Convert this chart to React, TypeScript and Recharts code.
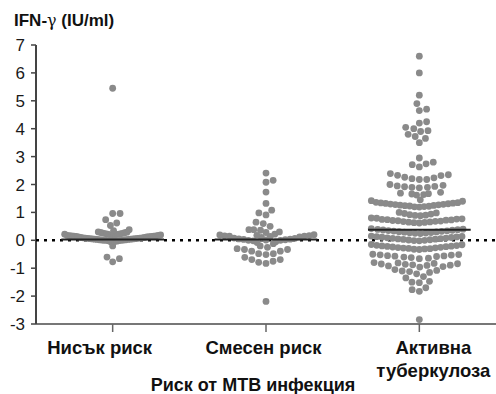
import { ScatterChart, Scatter, XAxis, YAxis } from "recharts";

const GROUPS = ["Нисък риск", "Смесен риск", "Активна туберкулоза"];
const Y_TICKS = [-3, -2, -1, 0, 1, 2, 3, 4, 5, 6, 7];

// IFN-γ values (IU/ml)
const LOW_RISK = [
  5.45, 0.96, 0.96, 0.74, 0.62, 0.53, 0.38, 0.35, 0.29, -0.2, -0.6, -0.66, -0.77,
  0.3, 0.28, 0.27, 0.26, 0.25, 0.24, 0.23, 0.22, 0.22, 0.21, 0.2, 0.2, 0.19, 0.18,
  0.18, 0.17, 0.16, 0.16, 0.15, 0.15, 0.14, 0.14, 0.13, 0.12, 0.12, 0.11, 0.1, 0.1,
  0.09, 0.09, 0.08, 0.08, 0.07, 0.07, 0.06, 0.06, 0.05, 0.05, 0.04, 0.04, 0.03, 0.03,
  0.02, 0.02, 0.01, 0.01, 0.0, 0.0, 0.0, -0.01, -0.02, -0.03, -0.04, -0.05,
];
const MIXED_RISK = [
  2.41, 2.15, 2.08, 1.73, 1.32, 1.08, 0.98, 0.91, 0.65, 0.6, 0.5, 0.38, 0.38, 0.36,
  0.3, 0.28, 0.22, 0.2, 0.19, 0.18, 0.17, 0.16, 0.15, 0.15, 0.14, 0.12, 0.1, 0.08,
  0.07, 0.05, 0.04, 0.03, 0.02, 0.01, 0.0, 0.0, -0.02, -0.05, -0.08, -0.12, -0.2,
  -0.25, -0.3, -0.33, -0.33, -0.39, -0.39, -0.48, -0.48, -0.51,
  -0.61, -0.69, -0.69, -0.75, -0.79, -0.83, -2.19,
];
const ACTIVE_TB = [
  6.6, 6.0, 5.2, 4.9, 4.7, 4.65, 4.25, 4.2, 4.05, 4.0, 3.93, 3.9, 3.8, 3.72, 3.65, 3.5,
  2.95, 2.8, 2.74, 2.71, 2.63,
  2.39, 2.35, 2.33, 2.32, 2.26, 2.24, 2.21, 2.18, 2.18,
  2.0, 1.97, 1.95, 1.93, 1.92, 1.9, 1.9, 1.88,
  1.72, 1.69, 1.67, 1.66, 1.64, 1.62,
  1.45, 1.42, 1.4,
  1.36, 1.35, 1.34, 1.33, 1.32, 1.31, 1.3, 1.29, 1.28, 1.27, 1.26, 1.25, 1.24, 1.23,
  1.22, 1.21, 1.2, 1.19,
  1.0, 0.98, 0.96, 0.94, 0.92, 0.9, 0.89, 0.88,
  0.8, 0.79, 0.77, 0.76, 0.75, 0.74, 0.73, 0.72, 0.71, 0.7, 0.69, 0.68, 0.67, 0.66,
  0.65, 0.64, 0.63, 0.62,
  0.42, 0.4, 0.39, 0.38, 0.37, 0.36, 0.35, 0.34, 0.33, 0.32, 0.31, 0.3, 0.29, 0.28,
  0.27, 0.26, 0.25, 0.24,
  0.15, 0.14, 0.13, 0.12, 0.11, 0.1, 0.09, 0.08, 0.07, 0.06, 0.05, 0.04, 0.03, 0.02,
  0.01, 0.0, -0.01, -0.02,
  -0.15, -0.16, -0.18, -0.19, -0.2, -0.21, -0.22, -0.23, -0.24, -0.25, -0.26, -0.27,
  -0.28, -0.29, -0.3, -0.31, -0.32, -0.33,
  -0.5, -0.51, -0.52, -0.53, -0.55, -0.56, -0.57, -0.58, -0.6, -0.62, -0.64, -0.66,
  -0.8, -0.81, -0.83, -0.84, -0.85, -0.86, -0.88, -0.89, -0.9, -0.92, -0.94, -0.96,
  -1.05, -1.08, -1.1, -1.12, -1.15, -1.2,
  -1.3, -1.35, -1.47, -1.5, -1.52,
  -1.7, -1.77, -1.83,
  -2.84,
];
const MEDIANS = [0.03, 0.03, 0.38];

const W = 496;
const H = 394;
const TOP = 45;
const AXIS_W = 36;
const XAXIS_H = 70;
const PX_X = (W - AXIS_W) / 3; // px per x unit
const PX_Y = (H - TOP - XAXIS_H) / 10; // px per y unit
const D = 7.4; // dot spacing in px
const CAP = 48; // half width of a swarm in px
const HALF = 0.335; // median line half width, x units
const LABEL_SHIFT = [-13, -2.5, 14];

// beeswarm: ascending, each point as close to the centre as it can go
function swarm(values: number[], gi: number) {
  const sorted = [...values].sort((a, b) => a - b);
  const placed: { x: number; y: number }[] = [];
  let flip = false;
  for (const v of sorted) {
    const y = v * PX_Y;
    const near = placed.filter((p) => Math.abs(p.y - y) < D);
    const cands = [0];
    for (const p of near) {
      const dx = Math.sqrt(D * D - (p.y - y) ** 2);
      cands.push(p.x + dx, p.x - dx);
    }
    cands.sort((a, b) => Math.abs(a) - Math.abs(b) || (flip ? b - a : a - b));
    const x = cands.find((c) => near.every((p) => (p.x - c) ** 2 + (p.y - y) ** 2 >= D * D - 1e-6)) ?? 0;
    flip = !flip;
    placed.push({ x, y });
  }
  return placed.map((p) => {
    const local = Math.max(...placed.filter((q) => Math.abs(q.y - p.y) < D).map((q) => Math.abs(q.x)));
    const s = local > CAP ? CAP / local : 1;
    return { x: gi + 0.5 + (p.x * s) / PX_X, y: p.y / PX_Y };
  });
}

const SERIES = [LOW_RISK, MIXED_RISK, ACTIVE_TB].map((vals, i) => swarm(vals, i));

const Dot = (p: any) => <circle cx={p.cx} cy={p.cy} r={3.4} fill="#8a8a8a" />;
const NoDot = () => <g />;

function CategoryTick(props: any) {
  const { x, y, payload, index } = props;
  const words = GROUPS[index].split(" ");
  const lines = index === 2 ? words : [GROUPS[index]];
  return (
    <text
      x={x + LABEL_SHIFT[index]}
      y={y + 20}
      textAnchor="middle"
      fontFamily="Liberation Sans, Arial, sans-serif"
      fontWeight="bold"
      fontSize={18.5}
      fill="#111"
    >
      {lines.map((l, k) => (
        <tspan key={k} x={x + LABEL_SHIFT[index]} dy={k === 0 ? 0 : 23}>
          {l}
        </tspan>
      ))}
    </text>
  );
}

export default function App() {
  return (
    <div style={{ position: "absolute", left: 0, top: 0, width: W, height: H, background: "#fff" }}>
      <ScatterChart width={W} height={H} margin={{ top: TOP, right: 0, bottom: 0, left: 0 }}>
        <XAxis
          type="number"
          dataKey="x"
          domain={[0, 3]}
          ticks={[0.5, 1.5, 2.5]}
          interval={0}
          height={XAXIS_H}
          tick={<CategoryTick />}
          tickSize={8}
          tickLine={{ stroke: "#666", strokeWidth: 1.5 }}
          axisLine={{ stroke: "#777", strokeWidth: 2 }}
        />
        <YAxis
          type="number"
          dataKey="y"
          domain={[-3, 7]}
          ticks={Y_TICKS}
          interval={0}
          width={AXIS_W}
          tickSize={5}
          tickMargin={6}
          tick={{ fontSize: 17, fill: "#1a1a1a", fontFamily: "Liberation Sans, Arial, sans-serif" }}
          tickLine={{ stroke: "#444", strokeWidth: 1.5 }}
          axisLine={{ stroke: "#444", strokeWidth: 2 }}
        />
        <Scatter
          data={[{ x: 0, y: 0 }, { x: 3, y: 0 }]}
          line={{ stroke: "#000", strokeWidth: 2.5, strokeDasharray: "3 5" }}
          shape={NoDot}
          isAnimationActive={false}
        />
        {SERIES.map((pts, i) => (
          <Scatter key={GROUPS[i]} data={pts} shape={Dot} isAnimationActive={false} />
        ))}
        {MEDIANS.map((m, i) => (
          <Scatter
            key={"m" + i}
            data={[{ x: i + 0.5 - HALF, y: m }, { x: i + 0.5 + HALF, y: m }]}
            line={{ stroke: "#222", strokeWidth: 2 }}
            shape={NoDot}
            isAnimationActive={false}
          />
        ))}
      </ScatterChart>
      <svg width={W} height={H} style={{ position: "absolute", left: 0, top: 0, pointerEvents: "none" }}>
        <text x={14} y={26} fontFamily="Liberation Sans, Arial, sans-serif" fontWeight="bold" fontSize={17} fill="#111">
          IFN-
          <tspan fontFamily="DejaVu Serif, serif" fontWeight="normal" fontSize={16}>
            γ
          </tspan>
          {" (IU/ml)"}
        </text>
        <text
          x={253}
          y={391}
          textAnchor="middle"
          fontFamily="Liberation Sans, Arial, sans-serif"
          fontWeight="bold"
          fontSize={18}
          fill="#111"
        >
          Риск от МТВ инфекция
        </text>
      </svg>
    </div>
  );
}
